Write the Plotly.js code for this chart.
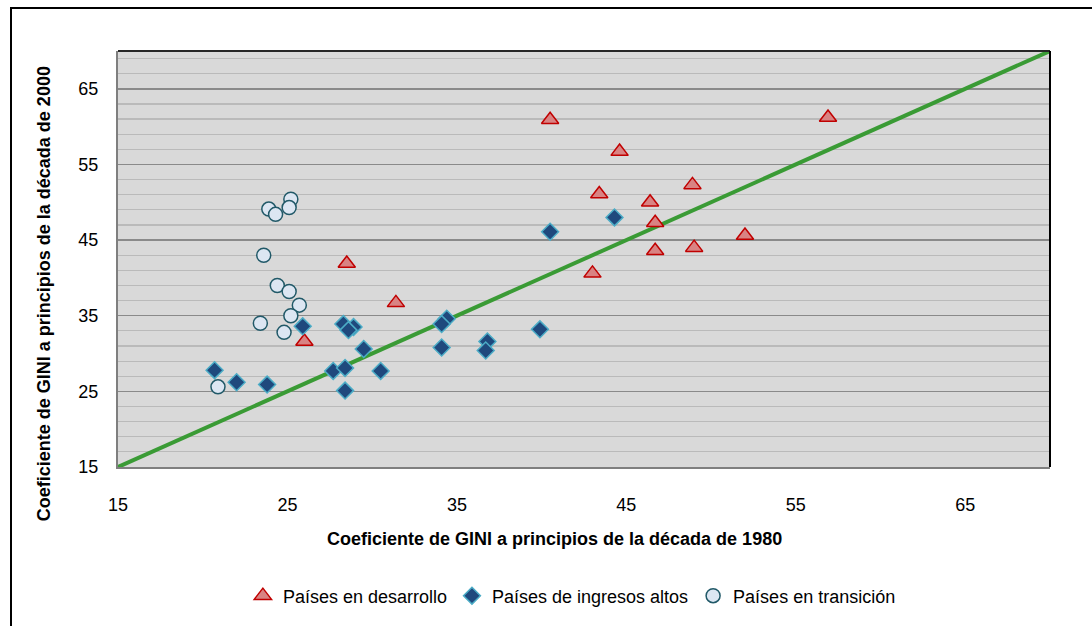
<!DOCTYPE html>
<html>
<head>
<meta charset="utf-8">
<script src="https://cdn.plot.ly/plotly-3.0.1.min.js"></script>
<style>
html,body{margin:0;padding:0;background:#fff;}
#wrap{position:relative;width:1092px;height:626px;}
#chart{position:absolute;left:0;top:0;width:1092px;height:626px;}
#frame{position:absolute;left:10px;top:7px;width:1100px;height:700px;border-left:2px solid #000;border-top:2px solid #000;pointer-events:none;}
</style>
</head>
<body>
<div id="wrap"><div id="chart"></div><div id="frame"></div></div>
<script>
// Países en desarrollo
const devX = [40.5, 44.6, 56.9, 43.4, 48.9, 46.4, 46.7, 52.0, 46.7, 49.0, 43.0, 28.5, 31.4, 26.0];
const devY = [60.9, 56.7, 61.2, 51.1, 52.3, 50.0, 47.3, 45.6, 43.6, 44.0, 40.6, 41.9, 36.7, 31.6];
// Países de ingresos altos
const highX = [20.7, 22.0, 23.8, 25.9, 28.3, 28.9, 28.6, 29.5, 27.7, 28.4, 30.5, 28.4, 34.4, 34.1, 34.1, 36.8, 36.7, 39.9, 40.5, 44.3];
const highY = [27.8, 26.2, 25.9, 33.6, 33.9, 33.5, 33.1, 30.6, 27.7, 28.1, 27.7, 25.1, 34.6, 33.9, 30.8, 31.6, 30.4, 33.2, 46.1, 48.0];
// Países en transición
const transX = [25.2, 23.9, 24.3, 25.1, 23.6, 24.4, 25.1, 25.7, 25.2, 23.4, 24.8, 20.9];
const transY = [50.4, 49.1, 48.4, 49.3, 43.0, 39.0, 38.2, 36.4, 35.0, 34.0, 32.8, 25.6];
// 45-degree reference line
const lineX = [15, 70];
const lineY = [15, 70];
const tickVals = [15, 25, 35, 45, 55, 65];
const tickText = ['15', '25', '35', '45', '55', '65'];
const seriesNames = ['Países en desarrollo', 'Países de ingresos altos', 'Países en transición'];
const xTitle = 'Coeficiente de GINI a principios de la década de 1980';
const yTitle = 'Coeficiente de GINI a principios de la década de 2000';

const traces = [
  {x: lineX, y: lineY, mode: 'lines', line: {color: '#3a9b35', width: 4}, showlegend: false, hoverinfo: 'skip'},
  {x: devX, y: devY, mode: 'markers', name: seriesNames[0], cliponaxis: false,
   marker: {symbol: 'triangle-up', size: 15, color: '#d98383', line: {color: '#c00000', width: 1.5}}},
  {x: highX, y: highY, mode: 'markers', name: seriesNames[1], cliponaxis: false,
   marker: {symbol: 'diamond', size: 13, color: '#1f497d', line: {color: '#4bacc6', width: 1.5}}},
  {x: transX, y: transY, mode: 'markers', name: seriesNames[2], cliponaxis: false,
   marker: {symbol: 'circle', size: 14, color: '#dce6f2', line: {color: '#215968', width: 1.5}}}
];

const font = {family: 'Liberation Sans, Arial, sans-serif', size: 18, color: '#000'};

const layout = {
  width: 1092, height: 626,
  margin: {l: 118, r: 42, t: 51, b: 156, pad: 0},
  paper_bgcolor: '#ffffff',
  plot_bgcolor: '#d9d9d9',
  font: font,
  showlegend: true,
  legend: {orientation: 'h', x: 0.487, xanchor: 'center', y: -0.31, yanchor: 'middle',
           font: {family: 'Liberation Sans, Arial, sans-serif', size: 18, color: '#000'},
           itemwidth: 30, tracegroupgap: 0, bgcolor: 'rgba(0,0,0,0)'},
  xaxis: {range: [15, 70], tickvals: tickVals, ticktext: tickText, showgrid: false, zeroline: false,
          showline: true, linecolor: '#7f7f7f', linewidth: 2, ticks: 'outside', ticklen: 0,
          ticklabelstandoff: 20, tickfont: font, fixedrange: true},
  yaxis: {range: [15, 70], tickvals: tickVals, ticktext: tickText, showgrid: true, gridcolor: '#8a8a8a', gridwidth: 1.5,
          zeroline: false, showline: true, linecolor: '#7f7f7f', linewidth: 2, ticks: 'outside', ticklen: 0,
          ticklabelstandoff: 14, tickfont: font, fixedrange: true,
          minor: {tick0: 15, dtick: 2, showgrid: true, gridcolor: '#bababa', gridwidth: 1.2}},
  shapes: [
    {type: 'line', xref: 'paper', yref: 'paper', x0: 0, x1: 1, y0: 1, y1: 1, line: {color: '#262626', width: 2}},
    {type: 'line', xref: 'paper', yref: 'paper', x0: 1, x1: 1, y0: 0, y1: 1, line: {color: '#000000', width: 2}}
  ],
  annotations: [
    {text: '<b>' + xTitle + '</b>', xref: 'paper', yref: 'paper', x: (554 - 118) / 932, y: (470 - 543) / 419,
     xanchor: 'center', yanchor: 'middle', showarrow: false,
     font: {family: 'Liberation Sans, Arial, sans-serif', size: 18, color: '#000'}},
    {text: '<b>' + yTitle + '</b>', xref: 'paper', yref: 'paper', x: (44 - 118) / 932, y: (470 - 296) / 419,
     xanchor: 'center', yanchor: 'middle', showarrow: false, textangle: -90,
     font: {family: 'Liberation Sans, Arial, sans-serif', size: 18, color: '#000'}}
  ]
};

Plotly.newPlot('chart', traces, layout, {displayModeBar: false, staticPlot: true});
</script>
</body>
</html>
